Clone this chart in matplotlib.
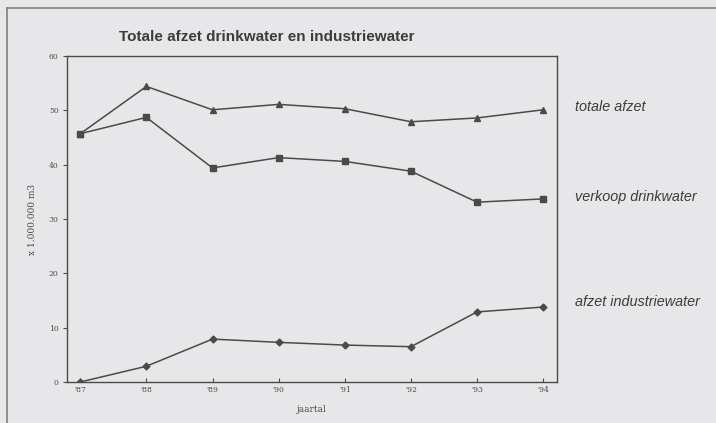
import matplotlib.pyplot as plt
from matplotlib.lines import Line2D

years = [87, 88, 89, 90, 91, 92, 93, 94]
year_labels = ["'87", "'88", "'89", "'90", "'91", "'92", "'93", "'94"]
totale_afzet = [45.7, 54.4, 50.1, 51.1, 50.3, 47.9, 48.6, 50.1]
verkoop_drinkwater = [45.7, 48.7, 39.4, 41.3, 40.6, 38.8, 33.1, 33.7]
afzet_industriewater = [0.0, 2.9, 7.9, 7.3, 6.8, 6.5, 12.9, 13.8]

bg = "#e7e7e9"
ink = "#4a4a4a"

fig = plt.figure(figsize=(7.16, 4.23), dpi=100, facecolor=bg)
ax = fig.add_axes([0.0936, 0.0969, 0.6844, 0.7707], facecolor=bg)

ax.plot(years, totale_afzet, color=ink, lw=1.1, marker="^", ms=5)
ax.plot(years, verkoop_drinkwater, color=ink, lw=1.1, marker="s", ms=4.5)
ax.plot(years, afzet_industriewater, color=ink, lw=1.1, marker="D", ms=3.5)

ax.set_xlim(86.8, 94.21)
ax.set_ylim(0, 60)
ax.set_yticks(range(0, 61, 10))
ax.set_xticks(years)
ax.set_xticklabels(year_labels)
ax.tick_params(axis="x", direction="in", length=3, labelsize=5.5, colors=ink, pad=3)
ax.tick_params(axis="y", direction="out", length=3, labelsize=5.5, colors=ink, pad=3)
for lab in ax.get_xticklabels() + ax.get_yticklabels():
    lab.set_family("DejaVu Serif")
for s in ax.spines.values():
    s.set_color(ink)
    s.set_linewidth(1.0)

ax.set_xlabel("jaartal", family="DejaVu Serif", fontsize=6.5, color=ink)
ax.set_ylabel("x 1.000.000 m3", family="DejaVu Serif", fontsize=6.5, color=ink)
ax.xaxis.set_label_coords(0.5, -0.07)
ax.yaxis.set_label_coords(-0.062, 0.5)

fig.text(0.372, 0.912, "Totale afzet drinkwater en industriewater", ha="center", va="center",
         fontsize=11, fontweight="bold", color="#3c3c3c", family="Liberation Sans")

labels = [("totale afzet", 107), ("verkoop drinkwater", 197), ("afzet industriewater", 302)]
for txt, ypx in labels:
    fig.text(575 / 716, 1 - ypx / 423, txt, ha="left", va="center", fontsize=10.4,
             style="italic", color="#3c3c3c", family="Liberation Sans")

# outer frame (top and left edges of the scanned panel)
fig.add_artist(Line2D([7 / 716, 1], [1 - 8 / 423, 1 - 8 / 423], transform=fig.transFigure,
                      color="#808080", lw=1.2))
fig.add_artist(Line2D([7 / 716, 7 / 716], [0, 1 - 8 / 423], transform=fig.transFigure,
                      color="#808080", lw=1.2))

fig.savefig("out.png", dpi=100, facecolor=bg)
